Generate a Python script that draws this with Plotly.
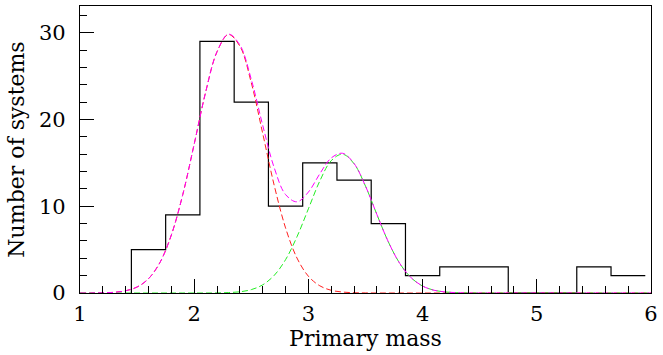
import plotly.graph_objects as go

# Histogram of primary masses: left bin edges (bin width 0.3) and counts
bin_left = [1.45, 1.75, 2.05, 2.35, 2.65, 2.95, 3.25, 3.55, 3.85, 4.15,
            4.45, 4.75, 5.05, 5.35, 5.65]
bin_right_end = 5.95
counts = [5, 9, 29, 22, 10, 15, 13, 8, 2, 3, 3, 0, 0, 3, 2]

# Fitted two-component model sampled on a 0.1 grid
model_mass = [1.0, 1.1, 1.2, 1.3, 1.4, 1.5, 1.6, 1.7, 1.8, 1.9,
              2.0, 2.1, 2.2, 2.3, 2.4, 2.5, 2.6, 2.7, 2.8, 2.9,
              3.0, 3.1, 3.2, 3.3, 3.4, 3.5, 3.6, 3.7, 3.8, 3.9,
              4.0, 4.1, 4.2, 4.3, 4.4, 4.5, 4.6, 4.7, 4.8, 4.9,
              5.0, 5.1, 5.2, 5.3, 5.4, 5.5, 5.6, 5.7, 5.8, 5.9, 6.0]
low_component = [0.00, 0.01, 0.03, 0.08, 0.26, 0.69, 1.65, 3.51, 6.69, 11.34,
                 17.16, 23.13, 27.80, 29.78, 28.44, 24.22, 18.38, 12.44, 7.50, 4.03,
                 1.93, 0.83, 0.31, 0.11, 0.03, 0.01, 0.00, 0.00, 0.00, 0.00,
                 0.00, 0.00, 0.00, 0.00, 0.00, 0.00, 0.00, 0.00, 0.00, 0.00,
                 0.00, 0.00, 0.00, 0.00, 0.00, 0.00, 0.00, 0.00, 0.00, 0.00, 0.00]
high_component = [0.00, 0.00, 0.00, 0.00, 0.00, 0.00, 0.00, 0.00, 0.00, 0.00,
                  0.00, 0.00, 0.01, 0.05, 0.14, 0.39, 0.94, 2.02, 3.84, 6.48,
                  9.70, 12.91, 15.25, 15.99, 14.89, 12.31, 9.04, 5.89, 3.41, 1.75,
                  0.80, 0.32, 0.12, 0.04, 0.01, 0.00, 0.00, 0.00, 0.00, 0.00,
                  0.00, 0.00, 0.00, 0.00, 0.00, 0.00, 0.00, 0.00, 0.00, 0.00, 0.00]
total_model = [a + b for a, b in zip(low_component, high_component)]

# Step outline of the histogram
step_x = [bin_left[0]] + bin_left + [bin_right_end]
step_y = [0] + counts + [counts[-1]]

FONT = "DejaVu Serif"
DASH = "6px,3px"

fig = go.Figure()
fig.add_trace(go.Scatter(x=step_x, y=step_y, mode="lines", line_shape="hv",
                         line=dict(color="black", width=1.2), showlegend=False))
fig.add_trace(go.Scatter(x=model_mass, y=low_component, mode="lines", line_shape="spline",
                         line=dict(color="#ff2020", width=1, dash=DASH), showlegend=False))
fig.add_trace(go.Scatter(x=model_mass, y=high_component, mode="lines", line_shape="spline",
                         line=dict(color="#22ee22", width=1, dash=DASH), showlegend=False))
fig.add_trace(go.Scatter(x=model_mass, y=total_model, mode="lines", line_shape="spline",
                         line=dict(color="#ff00ff", width=1, dash=DASH), showlegend=False))

axis_common = dict(showgrid=False, zeroline=False, showline=True, linecolor="black",
                   linewidth=1.2, mirror=True, ticks="inside", tickcolor="black",
                   tickwidth=1, ticklen=14,
                   tickfont=dict(family=FONT, size=21, color="black"))

fig.update_xaxes(range=[1, 6], dtick=1, tick0=1, ticklabelstandoff=2,
                 minor=dict(dtick=0.2, ticks="inside", ticklen=7, tickcolor="black"),
                 title=dict(text="Primary mass", font=dict(family=FONT, size=22, color="black"),
                            standoff=0),
                 **axis_common)
fig.update_yaxes(range=[0, 33.07], dtick=10, tick0=0, ticklabelstandoff=9,
                 minor=dict(dtick=2, ticks="inside", ticklen=7, tickcolor="black"),
                 title=dict(text="Number of systems", font=dict(family=FONT, size=22, color="black"),
                            standoff=8),
                 **axis_common)

fig.update_layout(width=663, height=355, margin=dict(l=80, r=9, t=5, b=62),
                  plot_bgcolor="white", paper_bgcolor="white")

fig.write_html("out.html")
